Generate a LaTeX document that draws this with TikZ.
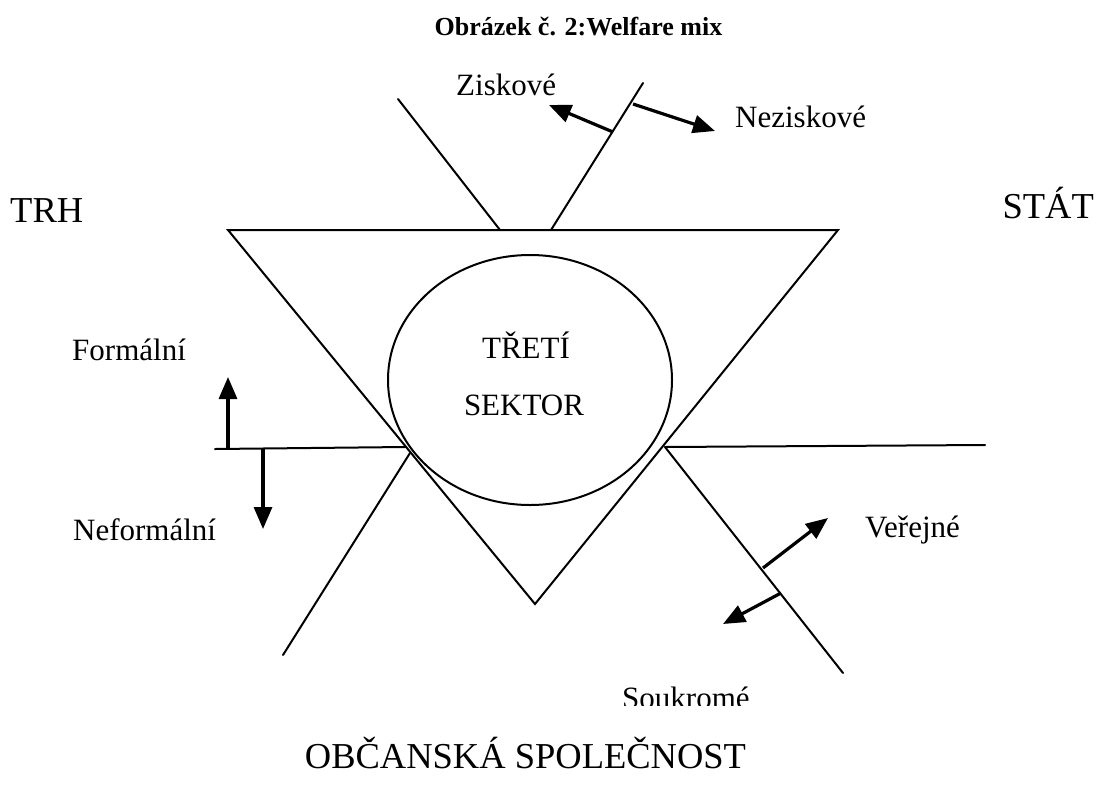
\documentclass[tikz,border=0pt]{standalone}
\usepackage{fontspec}
\setmainfont{Liberation Serif}
\usetikzlibrary{arrows.meta,shapes.geometric}
\tikzset{
  thinline/.style={line width=2pt, line cap=round},
  pointer/.style={line width=3.2pt, -{Triangle[length=22pt,width=18pt]}},
  biglabel/.style={inner sep=0pt, font=\fontsize{36.5}{40}\selectfont},
  smalllabel/.style={inner sep=0pt, font=\fontsize{31}{36}\selectfont},
  titlelabel/.style={inner sep=0pt, font=\fontsize{26}{30}\selectfont\bfseries},
}
\begin{document}
\begin{tikzpicture}[x=1pt,y=-1pt]
\useasboundingbox (0,0) rectangle (1100,785);
% title
\node[titlelabel, anchor=base] (title) at (578.5,35) {Obrázek č. 2:Welfare mix};
% triangle
\coordinate (tl) at (228,230);
\coordinate (tr) at (838,230);
\coordinate (tb) at (535,604);
\draw[thinline, line join=miter, line cap=butt] (tl) -- (tr) -- (tb) -- cycle;
% ellipse
\node[draw, ellipse, line width=2pt, minimum width=284pt, minimum height=250pt, inner sep=0pt] (sector) at (530,380) {};
\node[smalllabel, anchor=base] (treti) at (526,358) {TŘETÍ};
\node[smalllabel, anchor=base] (sektor) at (524,415) {SEKTOR};
% top lines
\coordinate (ta1) at (398,99);
\coordinate (ta2) at (500,230);
\coordinate (tb1) at (643,83);
\coordinate (tb2) at (551,230);
\draw[thinline] (ta1) -- (ta2);
\draw[thinline] (tb1) -- (tb2);
% left lines
\coordinate (lh1) at (215,449);
\coordinate (lh2) at (405,447);
\coordinate (ll1) at (410,453);
\coordinate (ll2) at (283,655);
\draw[thinline] (lh1) -- (lh2);
\draw[thinline] (ll1) -- (ll2);
% right lines
\coordinate (rh1) at (665,447);
\coordinate (rh2) at (985,445);
\coordinate (rl2) at (843,673);
\draw[thinline] (rh1) -- (rh2);
\draw[thinline] (rh1) -- (rl2);
% arrows
\coordinate (zs) at (613,132); \coordinate (ze) at (549,105);
\coordinate (ns) at (633,104); \coordinate (ne) at (715,131);
\coordinate (fs) at (228,449); \coordinate (fe) at (228,377);
\coordinate (nfs) at (263,449); \coordinate (nfe) at (263,529);
\coordinate (vs) at (763,568); \coordinate (ve) at (828,518);
\coordinate (ss) at (781,593); \coordinate (se) at (723,624);
\draw[pointer] (zs) -- (ze);
\draw[pointer] (ns) -- (ne);
\draw[pointer] (fs) -- (fe);
\draw[pointer] (nfs) -- (nfe);
\draw[pointer] (vs) -- (ve);
\draw[pointer] (ss) -- (se);
% labels
\node[smalllabel, anchor=base west] (ziskove) at (456,95) {Ziskové};
\node[smalllabel, anchor=base west] (neziskove) at (735,127) {Neziskové};
\node[biglabel, anchor=base west] (trh) at (10,222) {TRH};
\node[biglabel, anchor=base east] (stat) at (1094,218) {STÁT};
\node[smalllabel, anchor=base west] (formalni) at (72,360) {Formální};
\node[smalllabel, anchor=base west] (neformalni) at (73,540) {Neformální};
\node[smalllabel, anchor=base west] (verejne) at (865,537) {Veřejné};
\begin{scope}
\clip (600,660) rectangle (780,705);
\node[smalllabel, anchor=base west] (soukrome) at (622,708) {Soukromé};
\end{scope}
\node[biglabel, anchor=base] (obcanska) at (525.5,768) {OBČANSKÁ SPOLEČNOST};
\end{tikzpicture}
\end{document}
